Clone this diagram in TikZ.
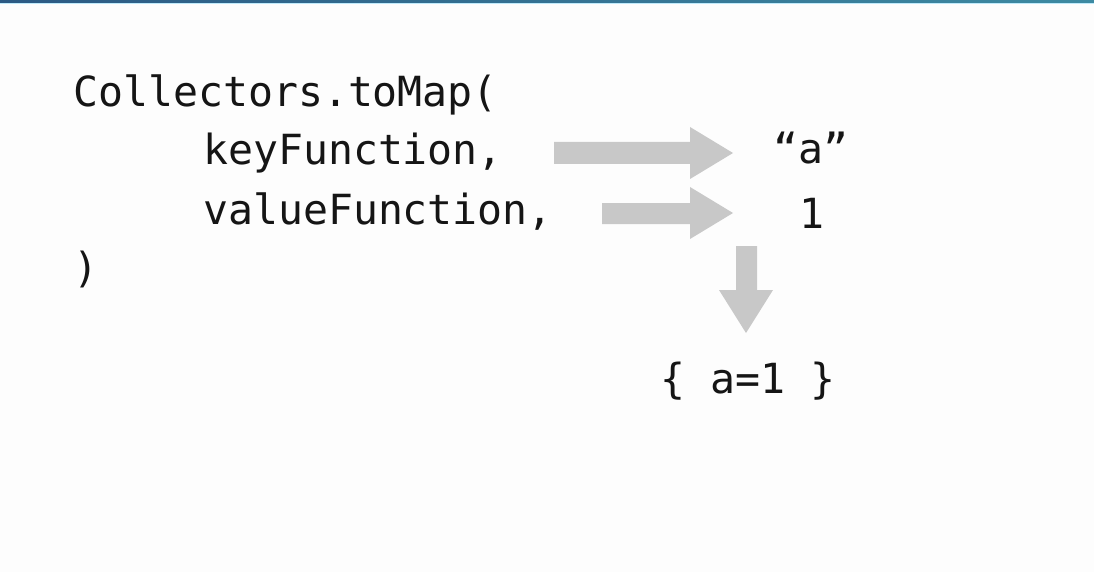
\documentclass[tikz,border=0pt]{standalone}
\usepackage{fontspec}
\setmonofont{DejaVu Sans Mono}
\definecolor{bg}{HTML}{FDFDFD}
\definecolor{barL}{HTML}{2C5A84}
\definecolor{barR}{HTML}{3D8AA2}
\definecolor{arrowgray}{HTML}{C8C8C8}
\definecolor{ink}{HTML}{151515}
\tikzset{
  code/.style={anchor=base west, inner sep=0pt, text=ink, font=\ttfamily\fontsize{41.5}{48}\selectfont},
  blockarrow/.style={fill=arrowgray}
}
\begin{document}
\begin{tikzpicture}[x=1pt,y=-1pt]
\fill[bg] (0,0) rectangle (1094,572);
\useasboundingbox (0,0) rectangle (1094,572);
\shade[left color=barL, right color=barR] (0,0) rectangle (1094,3.5);
\fill[cyan!25] (0,3.5) rectangle (1094,4.5);
% code text
\node[code] (l1) at (73,107) {Collectors.toMap(};
\node[code] (l2) at (78,165) {\ \ \ \ \ keyFunction,};
\node[code] (l3) at (78,224) {\ \ \ \ \ valueFunction,};
\node[code] (l4) at (73,282) {)};
% results
\node[code] (ka) at (773,164) {“a”};
\node[code] (v1) at (799,228) {1};
\node[code] (map) at (660,393) {\{ a=1 \}};
% block arrows
\fill[blockarrow] (554,142) -- (690,142) -- (690,127) -- (733,153) -- (690,179) -- (690,164) -- (554,164) -- cycle;
\fill[blockarrow] (602,203) -- (690,203) -- (690,187) -- (733,213) -- (690,239) -- (690,224) -- (602,224) -- cycle;
\fill[blockarrow] (736,246) -- (757,246) -- (757,290) -- (773,290) -- (746,333) -- (719,290) -- (736,290) -- cycle;
\end{tikzpicture}
\end{document}
